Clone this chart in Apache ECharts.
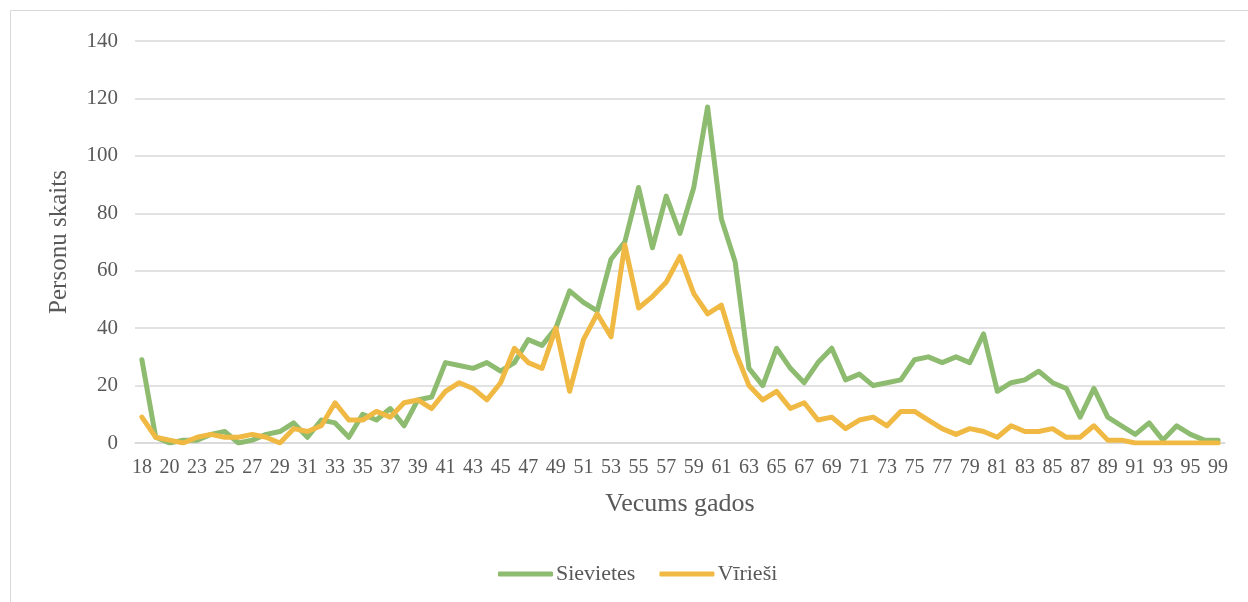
<!DOCTYPE html>
<html>
<head>
<meta charset="utf-8">
<title>Vecums gados</title>
<script src="https://cdn.jsdelivr.net/npm/echarts@6/dist/echarts.min.js"></script>
<style>
  html, body { margin: 0; padding: 0; background: #fff; }
  #chart { width: 1248px; height: 602px; }
</style>
</head>
<body>
<div id="chart"></div>
<script>
// vecums (kategorijas)
var ages = ['18', '19', '20', '21'];
for (var a = 23; a <= 95; a++) ages.push(String(a));
ages.push('97', '99');

var sievietes = [
  29, 2, 0, 1, 1, 3, 4, 0, 1, 3,
  4, 7, 2, 8, 7, 2, 10, 8, 12, 6,
  15, 16, 28, 27, 26, 28, 25, 28, 36, 34,
  40, 53, 49, 46, 64, 70, 89, 68, 86, 73,
  89, 117, 78, 63, 26, 20, 33, 26, 21, 28,
  33, 22, 24, 20, 21, 22, 29, 30, 28, 30,
  28, 38, 18, 21, 22, 25, 21, 19, 9, 19,
  9, 6, 3, 7, 1, 6, 3, 1, 1
];
var viriesi = [
  9, 2, 1, 0, 2, 3, 2, 2, 3, 2,
  0, 5, 4, 6, 14, 8, 8, 11, 9, 14,
  15, 12, 18, 21, 19, 15, 21, 33, 28, 26,
  40, 18, 36, 45, 37, 69, 47, 51, 56, 65,
  52, 45, 48, 32, 20, 15, 18, 12, 14, 8,
  9, 5, 8, 9, 6, 11, 11, 8, 5, 3,
  5, 4, 2, 6, 4, 4, 5, 2, 2, 6,
  1, 1, 0, 0, 0, 0, 0, 0, 0
];

var font = '"Liberation Serif", "DejaVu Serif", serif';
var chart = echarts.init(document.getElementById('chart'));
chart.setOption({
  backgroundColor: '#fff',
  animation: false,
  color: ['#8dbb6f', '#f0b943'],
  textStyle: { fontFamily: font },
  graphic: [{
    type: 'rect',
    shape: { x: 10.5, y: 10.5, width: 1260, height: 620 },
    style: { fill: 'none', stroke: '#d9d9d9', lineWidth: 1 },
    silent: true
  }],
  grid: { left: 135, right: 23, top: 41, bottom: 159 },
  legend: {
    data: ['Sievietes', 'Vīrieši'],
    left: 493,
    top: 558,
    itemWidth: 55,
    itemHeight: 5,
    itemGap: 24,
    icon: 'roundRect',
    textStyle: { fontFamily: font, fontSize: 22, color: '#595959', padding: [0, 0, 0, -2] }
  },
  xAxis: {
    type: 'category',
    data: ages,
    boundaryGap: true,
    name: 'Vecums gados',
    nameLocation: 'middle',
    nameGap: 48,
    nameTextStyle: { fontFamily: font, fontSize: 26, color: '#595959' },
    axisLine: { lineStyle: { color: '#d9d9d9', width: 1.5 } },
    axisTick: { show: false },
    axisLabel: { interval: 1, margin: 15, fontFamily: font, fontSize: 20, color: '#595959' }
  },
  yAxis: {
    type: 'value',
    min: 0,
    max: 140,
    interval: 20,
    name: 'Personu skaits',
    nameLocation: 'middle',
    nameGap: 63,
    nameRotate: 90,
    nameTextStyle: { fontFamily: font, fontSize: 25, color: '#595959' },
    axisLine: { show: false },
    axisTick: { show: false },
    axisLabel: { margin: 17, fontFamily: font, fontSize: 21, color: '#595959' },
    splitLine: { lineStyle: { color: '#d9d9d9', width: 1.5 } }
  },
  series: [
    {
      name: 'Sievietes',
      type: 'line',
      data: sievietes,
      showSymbol: false,
      lineStyle: { width: 5, join: 'round', cap: 'round' }
    },
    {
      name: 'Vīrieši',
      type: 'line',
      data: viriesi,
      showSymbol: false,
      lineStyle: { width: 5, join: 'round', cap: 'round' }
    }
  ]
});
</script>
</body>
</html>
